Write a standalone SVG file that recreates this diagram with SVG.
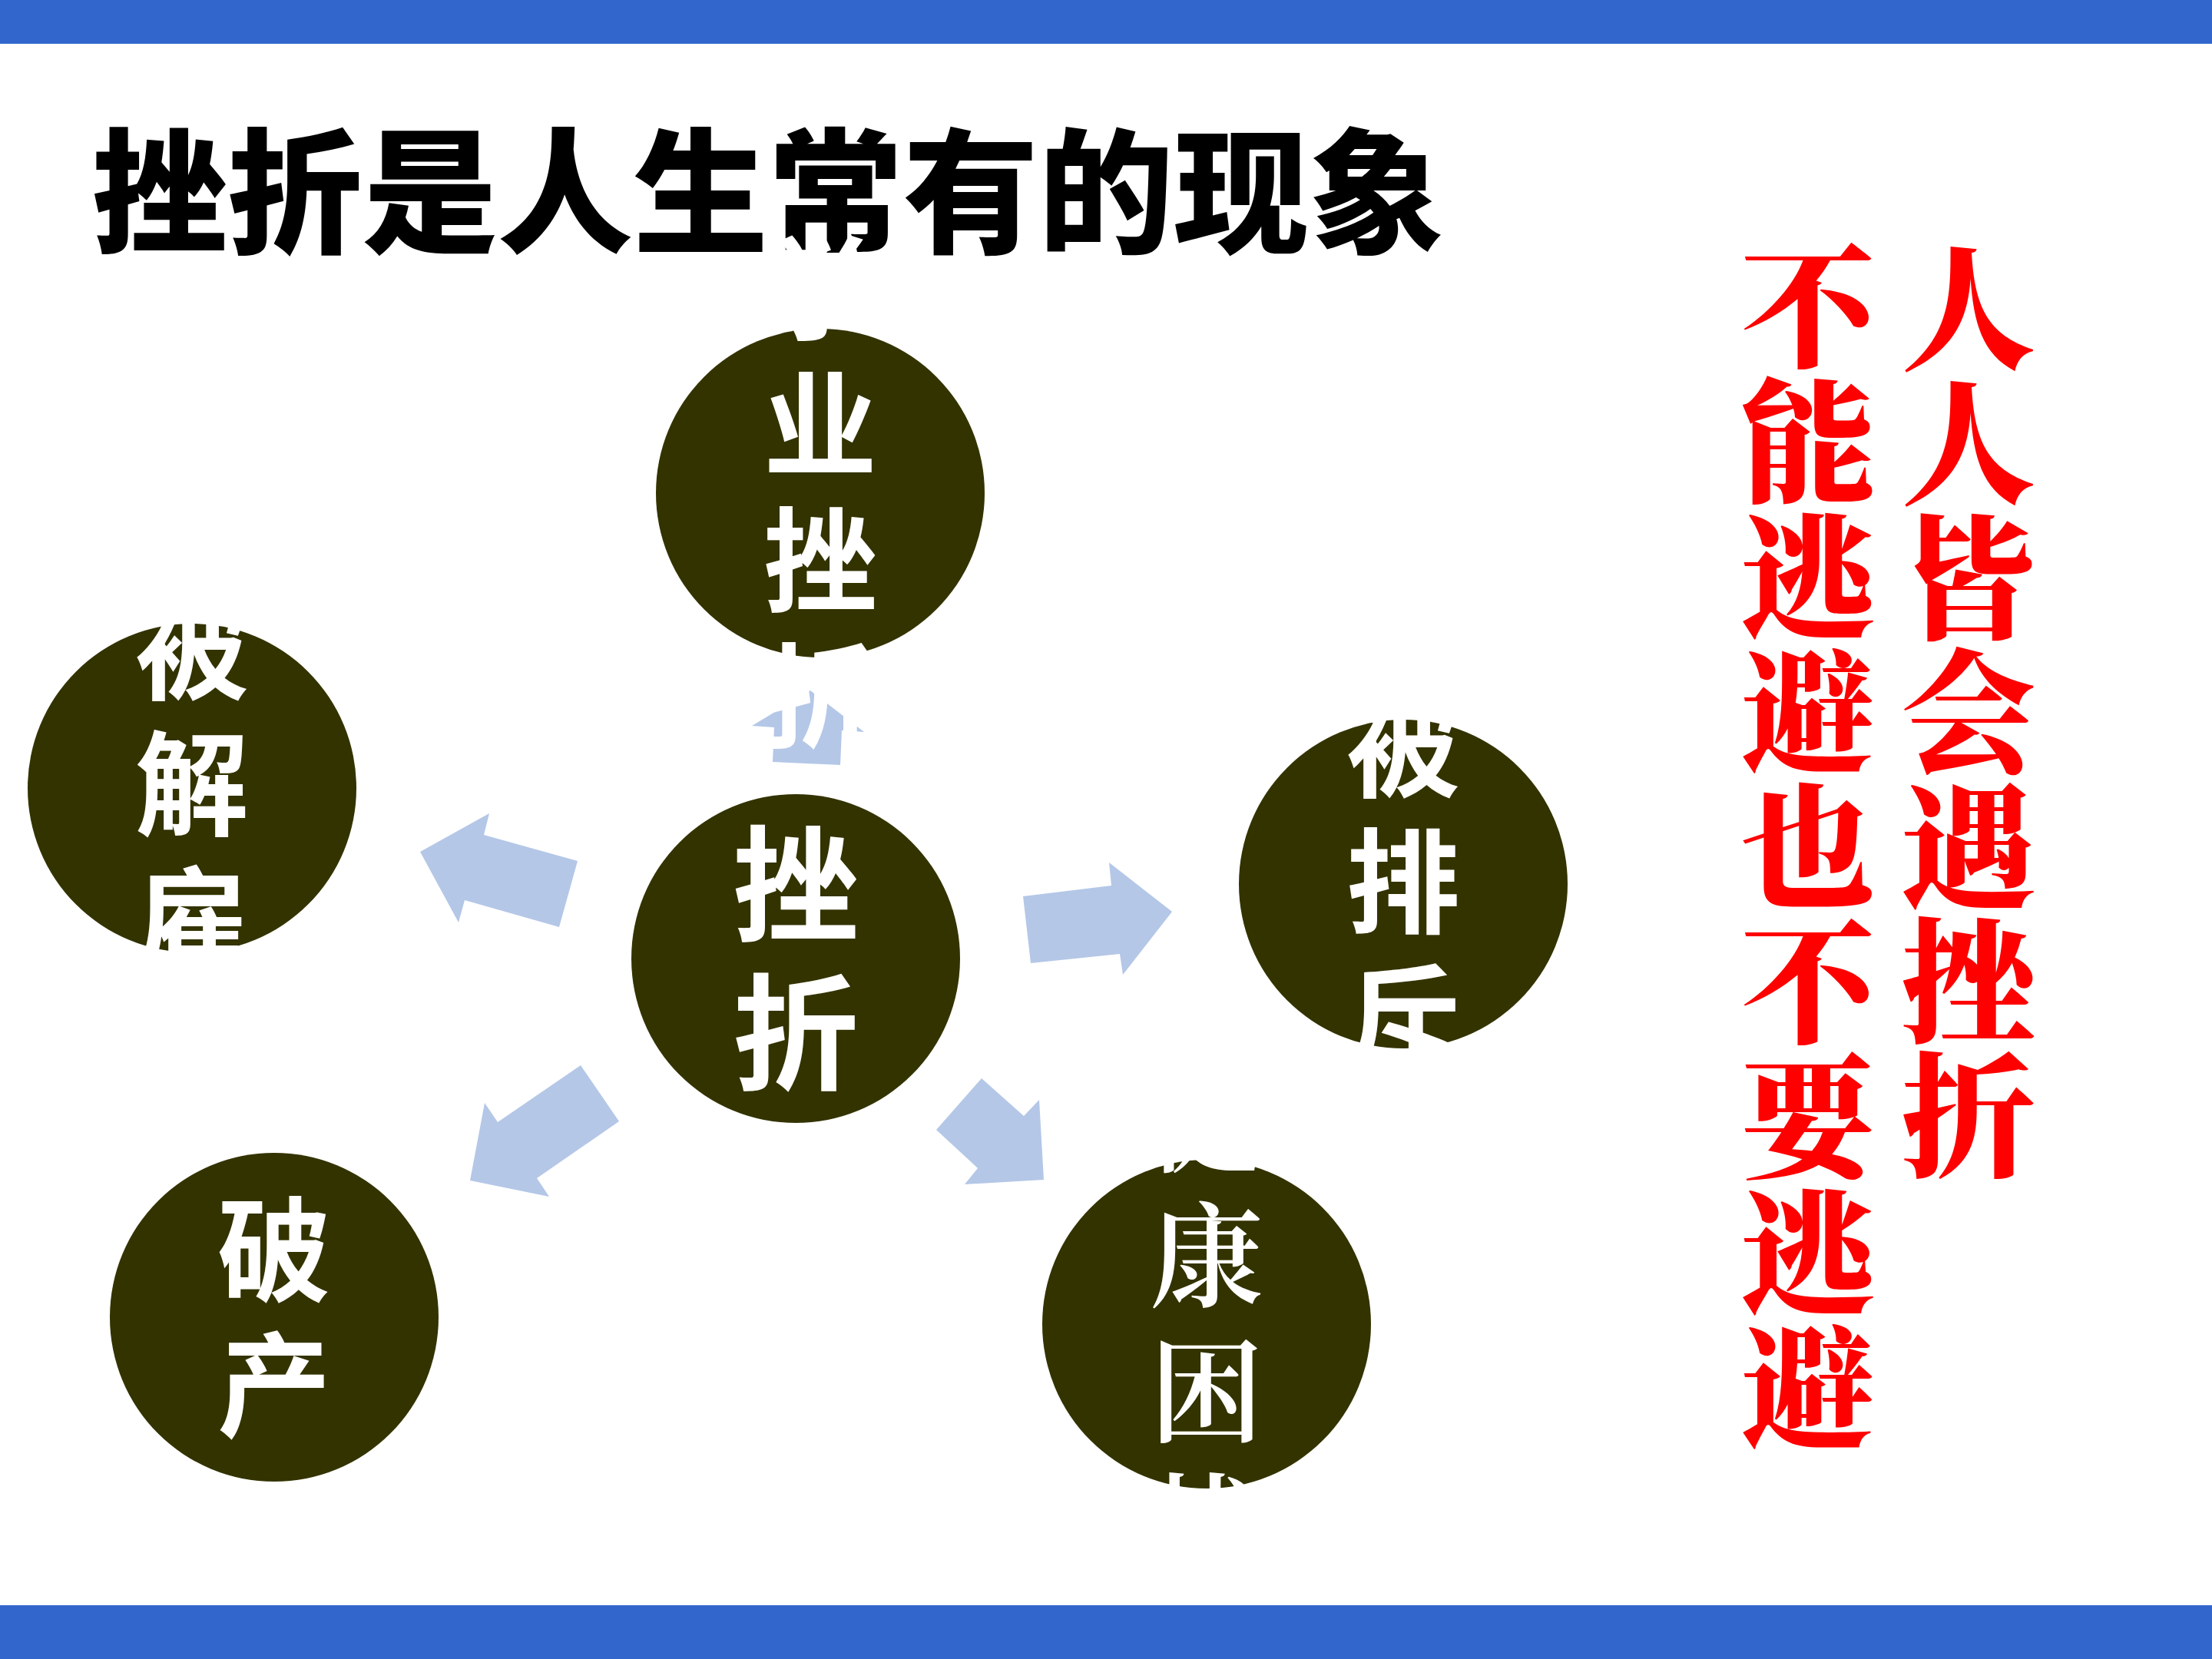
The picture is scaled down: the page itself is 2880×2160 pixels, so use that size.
<svg xmlns="http://www.w3.org/2000/svg" width="2880" height="2160" viewBox="0 0 2880 2160">
<style>
.bar{fill:#3366CC}
.circ{fill:#333300}
.arrow{fill:#B4C7E7}
.nt{font-family:'Noto Sans CJK SC','Noto Sans CJK JP',sans-serif;font-weight:700;fill:#FFFFFF;font-size:148px;text-anchor:middle}
.nts{font-family:'Noto Serif CJK SC','Noto Sans CJK SC',serif;font-weight:600;fill:#FFFFFF;font-size:148px;text-anchor:middle}
.big{font-size:164px}
.title{font-family:'Noto Sans CJK SC','Noto Sans CJK JP',sans-serif;font-weight:900;font-size:176px;fill:#000000}
.red{font-family:'Noto Serif CJK SC','Noto Sans CJK SC',serif;font-weight:900;font-size:175px;fill:#FF0000;text-anchor:middle}
</style>
<rect width="2880" height="2160" fill="#FFFFFF"/>
<rect class="bar" x="0" y="0" width="2880" height="57"/>
<rect class="bar" x="0" y="2090" width="2880" height="70"/>
<text id="title" class="title" x="120" y="316">挫折是人生常有的现象</text>
<g id="connectors">
<polygon class="arrow" points="547,1109 637,1059 630,1087 752,1121 728,1207 605,1172 597,1201"/>
<polygon class="arrow" points="612,1537 631,1436 648,1461 756,1387 806,1460 699,1534 715,1558"/>
<polygon class="arrow" points="1332,1167 1447,1153 1444,1123 1526,1187 1462,1269 1458,1242 1342,1254"/>
<polygon class="arrow" points="1278,1404 1333,1453 1353,1432 1359,1536 1256,1542 1273,1521 1219,1471"/>
<polygon class="arrow" points="1006,992 1008,947 979,945 1055,899 1125,953 1096,951 1094,996"/>
</g>
<g id="node-center">
<circle class="circ" cx="1036" cy="1248" r="214"/>
<text class="nt big"><tspan x="1036" y="1213">挫</tspan><tspan x="1036" y="1406">折</tspan></text>
</g>
<g id="node-top">
<circle class="circ" cx="1068" cy="642" r="214"/>
<text class="nt"><tspan x="1068" y="431">学</tspan><tspan x="1068" y="608">业</tspan><tspan x="1068" y="785">挫</tspan><tspan x="1068" y="962">折</tspan></text>
</g>
<g id="node-left">
<circle class="circ" cx="250" cy="1026" r="214"/>
<text class="nt"><tspan x="250" y="899">被</tspan><tspan x="250" y="1076">解</tspan><tspan x="250" y="1253">雇</tspan></text>
</g>
<g id="node-right">
<circle class="circ" cx="1827" cy="1151" r="214"/>
<text class="nt"><tspan x="1827" y="1026">被</tspan><tspan x="1827" y="1203">排</tspan><tspan x="1827" y="1380">斥</tspan></text>
</g>
<g id="node-bottom-left">
<circle class="circ" cx="357" cy="1715" r="214"/>
<text class="nt"><tspan x="357" y="1683">破</tspan><tspan x="357" y="1859">产</tspan></text>
</g>
<g id="node-bottom-right">
<circle class="circ" cx="1571" cy="1724" r="214"/>
<text class="nts"><tspan x="1571" y="1514">健</tspan><tspan x="1571" y="1690">康</tspan><tspan x="1571" y="1866">困</tspan><tspan x="1571" y="2042">扰</tspan></text>
</g>
<g id="slogan-right">
<text class="red"><tspan x="2563" y="468">人</tspan><tspan x="2563" y="643">人</tspan><tspan x="2563" y="818">皆</tspan><tspan x="2563" y="993">会</tspan><tspan x="2563" y="1168">遇</tspan><tspan x="2563" y="1343">挫</tspan><tspan x="2563" y="1518">折</tspan></text>
</g>
<g id="slogan-left">
<text class="red"><tspan x="2354" y="464">不</tspan><tspan x="2354" y="640">能</tspan><tspan x="2354" y="816">逃</tspan><tspan x="2354" y="992">避</tspan><tspan x="2354" y="1168">也</tspan><tspan x="2354" y="1344">不</tspan><tspan x="2354" y="1520">要</tspan><tspan x="2354" y="1696">逃</tspan><tspan x="2354" y="1872">避</tspan></text>
</g>
</svg>
